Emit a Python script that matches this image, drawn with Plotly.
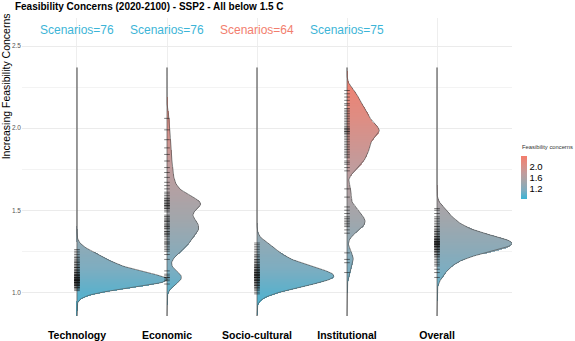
import numpy as np
import plotly.graph_objects as go

categories = ["Technology", "Economic", "Socio-cultural", "Institutional", "Overall"]

technology = [1.01, 1.02, 1.02, 1.03, 1.03, 1.03, 1.04, 1.04, 1.04, 1.04,
              1.05, 1.05, 1.05, 1.05, 1.05, 1.06, 1.06, 1.06, 1.06, 1.06,
              1.06, 1.07, 1.07, 1.07, 1.07, 1.07, 1.07, 1.07, 1.08, 1.08,
              1.08, 1.08, 1.08, 1.08, 1.08, 1.09, 1.09, 1.09, 1.09, 1.09,
              1.10, 1.10, 1.10, 1.10, 1.10, 1.11, 1.11, 1.11, 1.11, 1.12,
              1.12, 1.12, 1.13, 1.13, 1.13, 1.14, 1.14, 1.15, 1.15, 1.15,
              1.16, 1.16, 1.17, 1.17, 1.18, 1.18, 1.19, 1.19, 1.20, 1.21,
              1.21, 1.22, 1.23, 1.24, 1.25, 1.26]

economic = [1.05, 1.07, 1.08, 1.09, 1.09, 1.10, 1.11, 1.13,
            1.20, 1.23, 1.25, 1.26, 1.27, 1.28, 1.29, 1.30, 1.30, 1.31, 1.32, 1.33,
            1.34, 1.35, 1.35, 1.36, 1.36, 1.37, 1.37, 1.38, 1.39, 1.39,
            1.40, 1.40, 1.41, 1.41, 1.42, 1.43, 1.43, 1.44, 1.44, 1.45,
            1.46, 1.46, 1.47, 1.49, 1.50, 1.51, 1.51, 1.52, 1.52, 1.53,
            1.53, 1.53, 1.54, 1.54, 1.55, 1.55, 1.56, 1.56, 1.57, 1.57,
            1.58, 1.59, 1.60, 1.61,
            1.63, 1.65, 1.67, 1.70, 1.73, 1.76, 1.80, 1.84, 1.88, 1.93, 1.99, 2.06]

socio_cultural = [0.99, 1.00, 1.01, 1.02, 1.02, 1.03, 1.03, 1.04, 1.04, 1.04,
                  1.05, 1.05, 1.05, 1.06, 1.06, 1.06, 1.07, 1.07, 1.07, 1.07,
                  1.08, 1.08, 1.08, 1.08, 1.09, 1.09, 1.09, 1.09, 1.09, 1.09,
                  1.10, 1.10, 1.10, 1.10, 1.10, 1.11, 1.11, 1.11, 1.11, 1.11,
                  1.12, 1.12, 1.12, 1.12, 1.13, 1.13, 1.13, 1.13, 1.14, 1.14,
                  1.14, 1.15, 1.15, 1.15, 1.16, 1.16, 1.16, 1.17, 1.17, 1.18,
                  1.18, 1.19, 1.19, 1.20, 1.20, 1.21, 1.22, 1.22, 1.23, 1.24,
                  1.25, 1.26, 1.27, 1.28, 1.29, 1.30]

institutional = [1.12, 1.18, 1.20, 1.24,
                 1.36, 1.38, 1.40, 1.41, 1.42, 1.43, 1.44, 1.45, 1.46, 1.48, 1.50, 1.52,
                 1.58, 1.63,
                 1.74, 1.76, 1.78, 1.79, 1.80, 1.82, 1.83, 1.84, 1.85, 1.86,
                 1.87, 1.88, 1.89, 1.90, 1.91, 1.92, 1.93, 1.94, 1.95, 1.96,
                 1.97, 1.97, 1.98, 1.98, 1.99, 1.99, 2.00, 2.00, 2.01, 2.02,
                 2.03, 2.04, 2.05, 2.06, 2.07, 2.08, 2.09, 2.10, 2.11, 2.12,
                 2.14, 2.15, 2.17, 2.19, 2.21, 2.23]

overall = [1.09, 1.12, 1.14, 1.16, 1.17, 1.18, 1.19, 1.20, 1.21, 1.22,
           1.22, 1.23, 1.23, 1.24, 1.24, 1.25, 1.25, 1.25, 1.26, 1.26,
           1.26, 1.27, 1.27, 1.27, 1.28, 1.28, 1.28, 1.28, 1.28, 1.29,
           1.29, 1.29, 1.29, 1.29, 1.30, 1.30, 1.30, 1.30, 1.30, 1.30,
           1.31, 1.31, 1.31, 1.31, 1.31, 1.32, 1.32, 1.32, 1.32, 1.33,
           1.33, 1.33, 1.34, 1.34, 1.34, 1.35, 1.35, 1.36, 1.36, 1.37,
           1.37, 1.38, 1.38, 1.39, 1.40, 1.40, 1.41, 1.42, 1.43, 1.44,
           1.45, 1.46, 1.48, 1.50, 1.51]

scenario_labels = ["Scenarios=76", "Scenarios=76", "Scenarios=64", "Scenarios=75"]
scenario_is_red = [False, False, True, False]
cbar_ticks = [1.2, 1.6, 2.0]

BLUE = "#3DB5D7"
RED = "#F27E6E"
BW = 0.035  # kde bandwidth

groups = [technology, economic, socio_cultural, institutional, overall]
all_vals = np.concatenate([np.asarray(g) for g in groups])
grid = np.linspace(all_vals.min() - 4 * BW, all_vals.max() + 4 * BW, 260)
dy = grid[1] - grid[0]


def kde(vals):
    v = np.asarray(vals)
    z = (grid[:, None] - v[None, :]) / BW
    return np.exp(-0.5 * z ** 2).sum(axis=1) / (len(v) * BW * np.sqrt(2 * np.pi))


dens = [kde(g) for g in groups]
scale = 1.0 / max(d.max() for d in dens)

fig = go.Figure()

for i, (name, vals, d) in enumerate(zip(categories, groups, dens)):
    pos = i + 1
    w = d * scale
    # gradient fill: thin horizontal slices coloured by their y value
    fig.add_trace(go.Bar(
        orientation="h", y=grid, x=w, base=pos, width=dy * 1.4,
        marker=dict(color=grid, coloraxis="coloraxis", line_width=0),
        showlegend=False, hoverinfo="skip"))
    # outline (baseline + density curve)
    fig.add_trace(go.Scatter(
        x=np.concatenate([[pos], pos + w, [pos], [pos]]),
        y=np.concatenate([[grid[0]], grid, [grid[-1]], [grid[0]]]),
        mode="lines", line=dict(color="#555555", width=0.7),
        showlegend=False, hoverinfo="skip"))
    # rug-like dashes for each scenario
    fig.add_trace(go.Scatter(
        x=[pos] * len(vals), y=vals, mode="markers",
        marker=dict(symbol="line-ew", size=4,
                    line=dict(color="rgba(20,20,20,0.55)", width=1)),
        showlegend=False, hoverinfo="skip"))

for i, (lab, red) in enumerate(zip(scenario_labels, scenario_is_red)):
    fig.add_annotation(x=i + 1, y=2.6, text=lab, showarrow=False,
                       font=dict(size=12, color=RED if red else BLUE,
                                 family="Liberation Sans"))

fig.add_annotation(xref="paper", yref="paper", x=-0.033, y=0.77,
                   xanchor="center", yanchor="middle",
                   text="Increasing Feasibility Concerns", textangle=-90,
                   showarrow=False,
                   font=dict(size=10.5, color="black", family="Liberation Sans"))

fig.add_annotation(xref="paper", yref="paper", x=1.016, y=0.568,
                   xanchor="left", yanchor="middle",
                   text="Feasibility concerns", showarrow=False,
                   font=dict(size=5.8, color="#333", family="Liberation Sans"))

fig.update_layout(
    width=575, height=341,
    margin=dict(l=22, r=63, t=18, b=25, autoexpand=False),
    paper_bgcolor="white", plot_bgcolor="white",
    barmode="overlay", bargap=0,
    font=dict(family="Liberation Sans"),
    title=dict(text="<b>Feasibility Concerns (2020-2100) - SSP2 - All below 1.5 C</b>",
               x=0.026, xanchor="left", y=0.982, yanchor="middle",
               font=dict(size=10, color="black")),
    coloraxis=dict(
        cmin=grid[0], cmax=grid[-1],
        colorscale=[[0, "#3AB4D6"], [0.2, "#7EADC0"], [0.4, "#A2A6AB"],
                    [0.6, "#C09C9D"], [0.8, "#DE8D83"], [1, "#F47D6C"]],
        colorbar=dict(
            thickness=6, lenmode="pixels", len=43,
            x=1.018, xanchor="left", y=0.465, yanchor="middle",
            xpad=0, ypad=0,
            outlinewidth=0, ticks="", tickvals=cbar_ticks,
            ticktext=[f"{t:.1f}" for t in cbar_ticks],
            tickfont=dict(size=9.5, color="black"))),
    xaxis=dict(range=[0.389, 5.833], tickvals=[1, 2, 3, 4, 5], ticktext=categories,
               tickfont=dict(size=10.5, color="black", weight="bold"),
               ticks="outside", ticklen=9, tickcolor="rgba(0,0,0,0)",
               showgrid=True, gridcolor="#EEEEEE", gridwidth=0.6,
               zeroline=False, showline=False, automargin=False),
    yaxis=dict(range=[0.855, 2.672], tickvals=[1.0, 1.5, 2.0, 2.5],
               ticktext=["1.0", "1.5", "2.0", "2.5"],
               tickfont=dict(size=6.5, color="#555"),
               showgrid=True, gridcolor="#EBEBEB", gridwidth=1,
               minor=dict(tickvals=[1.25, 1.75, 2.25], showgrid=True,
                          gridcolor="#F3F3F3", gridwidth=0.6),
               zeroline=False, showline=False, automargin=False),
)

# drop the browser's default 8px body margin so the figure sits at (0, 0)
fig.write_html("out.html", config={"displayModeBar": False},
               post_script="document.body.style.margin = '0px';")
